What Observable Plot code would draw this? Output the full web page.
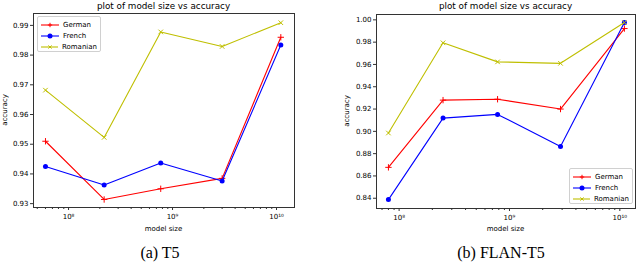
<!DOCTYPE html>
<html>
<head>
<meta charset="utf-8">
<script src="https://cdn.jsdelivr.net/npm/d3@7"></script>
<script src="https://cdn.jsdelivr.net/npm/@observablehq/plot@0.6"></script>
<style>
  html, body { margin: 0; padding: 0; background: #fff; }
  #page { position: relative; width: 640px; height: 263px; overflow: hidden; background: #fff; font-family: "DejaVu Sans", sans-serif; color: #000; }
  .panel { position: absolute; top: 0; }
  .title { position: absolute; font-size: 8.8px; white-space: nowrap; transform: translate(-50%, -50%); }
  .xlabel { position: absolute; font-size: 7px; white-space: nowrap; transform: translate(-50%, -50%); }
  .ylabel { position: absolute; font-size: 7px; white-space: nowrap; transform: translate(-50%, -50%) rotate(-90deg); }
  .caption { position: absolute; font-family: "Liberation Serif", "Times New Roman", serif; font-size: 16px; white-space: nowrap; transform: translate(-50%, -50%); }
  .legend { position: absolute; border: 1px solid #d0d0d0; border-radius: 2px; background: rgba(255,255,255,0.85); box-sizing: border-box; padding: 2px 3px; font-size: 7px; }
  .legend .row { display: flex; align-items: center; height: 11px; }
  .legend svg { margin-right: 4px; }
</style>
</head>
<body>
<div id="page"></div>
<script>
// ---- data ----
const languages = ["German", "French", "Romanian"];
const langColors = ["#ff0000", "#0000ff", "#bfbf00"];
const langSymbols = ["plus", "circle", "times"];

const t5Sizes = [6e7, 2.2e8, 7.7e8, 3e9, 1.1e10];
const t5German = [0.951, 0.9314, 0.935, 0.9385, 0.986];
const t5French = [0.9425, 0.9363, 0.9437, 0.9376, 0.9834];
const t5Romanian = [0.9682, 0.9523, 0.9878, 0.9829, 0.9909];

const flanSizes = [8e7, 2.5e8, 7.8e8, 2.9e9, 1.1e10];
const flanGerman = [0.8677, 0.928, 0.9288, 0.92, 0.9922];
const flanFrench = [0.8388, 0.9119, 0.9152, 0.8865, 0.9976];
const flanRomanian = [0.8985, 0.9794, 0.9623, 0.961, 0.9976];

const t5YTicks = [0.93, 0.94, 0.95, 0.96, 0.97, 0.98, 0.99];
const flanYTicks = [0.84, 0.86, 0.88, 0.90, 0.92, 0.94, 0.96, 0.98, 1.00];
const xMajorTicks = [1e8, 1e9, 1e10];
const xMajorLabels = ["10\u2078", "10\u2079", "10\u00B9\u2070"];

const titleText = "plot of model size vs accuracy";
const xLabelText = "model size";
const yLabelText = "accuracy";

// ---- helpers ----
function rowsFor(sizes, seriesList) {
  const rows = [];
  seriesList.forEach((vals, i) => {
    vals.forEach((v, j) => rows.push({size: sizes[j], acc: v, lang: languages[i]}));
  });
  return rows;
}

function minorTicks(domain) {
  const out = [];
  for (let e = 7; e <= 10; e++) {
    for (let m = 2; m <= 9; m++) {
      const v = m * Math.pow(10, e);
      if (v >= domain[0] && v <= domain[1]) out.push(v);
    }
  }
  return out;
}

function makeChart(opts) {
  const rows = rowsFor(opts.sizes, opts.series);
  const marks = [
    Plot.frame({stroke: "#333", strokeWidth: 1}),
    Plot.axisY(opts.yTicks, {tickSize: 3, tickPadding: 2, tickFormat: d3.format(".2f"), label: null, stroke: "#333"}),
    Plot.axisX(minorTicks(opts.xDomain), {tickSize: 2, tickFormat: () => "", label: null, stroke: "#333"}),
    Plot.axisX(xMajorTicks, {tickSize: 3, tickPadding: 4, tickFormat: (d) => xMajorLabels[xMajorTicks.indexOf(d)], label: null, stroke: "#333"})
  ];
  languages.forEach((lang, i) => {
    const data = rows.filter(r => r.lang === lang);
    marks.push(Plot.line(data, {x: "size", y: "acc", stroke: langColors[i], strokeWidth: 1.1}));
    if (langSymbols[i] === "circle") {
      marks.push(Plot.dot(data, {x: "size", y: "acc", fill: langColors[i], r: 2.5, symbol: "circle"}));
    } else {
      marks.push(Plot.dot(data, {x: "size", y: "acc", stroke: langColors[i], strokeWidth: 1, r: 2.2, symbol: langSymbols[i]}));
    }
  });
  return Plot.plot({
    width: 320,
    height: 236,
    marginLeft: opts.ml, marginRight: opts.mr, marginTop: opts.mt, marginBottom: opts.mb,
    x: {type: "log", domain: opts.xDomain},
    y: {domain: opts.yDomain},
    style: {fontFamily: "DejaVu Sans, sans-serif", fontSize: "7px", background: "transparent", color: "#000"},
    marks
  });
}

function legendHtml(left, top) {
  const lg = document.createElement("div");
  lg.className = "legend";
  lg.style.left = left + "px";
  lg.style.top = top + "px";
  lg.style.width = "64px";
  lg.style.height = "36px";
  languages.forEach((lang, i) => {
    const row = document.createElement("div");
    row.className = "row";
    const c = langColors[i];
    let marker;
    if (langSymbols[i] === "circle") marker = `<circle cx="9" cy="4" r="2.5" fill="${c}"/>`;
    else if (langSymbols[i] === "plus") marker = `<path d="M9,1.8V6.2M6.8,4H11.2" stroke="${c}" stroke-width="1"/>`;
    else marker = `<path d="M7.4,2.4L10.6,5.6M7.4,5.6L10.6,2.4" stroke="${c}" stroke-width="1"/>`;
    row.innerHTML = `<svg width="18" height="8"><line x1="0" y1="4" x2="18" y2="4" stroke="${c}" stroke-width="1.1"/>${marker}</svg><span>${lang}</span>`;
    lg.appendChild(row);
  });
  return lg;
}

function addText(cls, text, x, y) {
  const d = document.createElement("div");
  d.className = cls;
  d.textContent = text;
  d.style.left = x + "px";
  d.style.top = y + "px";
  page.appendChild(d);
}

const page = document.getElementById("page");

// ---- left: T5 ----
const left = document.createElement("div");
left.className = "panel";
left.style.left = "0px";
left.appendChild(makeChart({
  sizes: t5Sizes, series: [t5German, t5French, t5Romanian],
  yTicks: t5YTicks, yDomain: [0.9287, 0.994],
  xDomain: [Math.pow(10, 7.663), Math.pow(10, 10.173)],
  ml: 33, mr: 26, mt: 13, mb: 29
}));
page.appendChild(left);
page.appendChild(legendHtml(37, 16));
addText("title", titleText, 163.5, 6);
addText("xlabel", xLabelText, 163.5, 229);
addText("ylabel", yLabelText, 5, 110);
addText("caption", "(a) T5", 160, 253);

// ---- right: FLAN-T5 ----
const right = document.createElement("div");
right.className = "panel";
right.style.left = "320px";
right.appendChild(makeChart({
  sizes: flanSizes, series: [flanGerman, flanFrench, flanRomanian],
  yTicks: flanYTicks, yDomain: [0.8308, 1.0048],
  xDomain: [Math.pow(10, 7.795), Math.pow(10, 10.142)],
  ml: 56, mr: 5, mt: 14, mb: 28
}));
page.appendChild(right);
page.appendChild(legendHtml(569, 168));
addText("title", titleText, 505.5, 6);
addText("xlabel", xLabelText, 505.5, 229);
addText("ylabel", yLabelText, 347, 111);
addText("caption", "(b) FLAN-T5", 501, 253);
</script>
</body>
</html>
